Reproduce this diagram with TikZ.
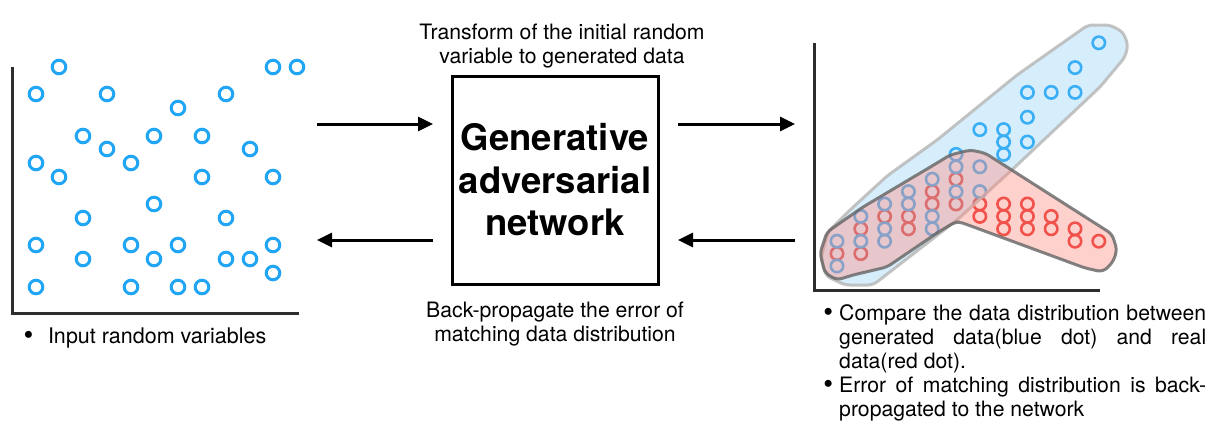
\documentclass[tikz,border=0pt]{standalone}
\usepackage{fontspec}
\setmainfont{TeX Gyre Heros}
\usetikzlibrary{arrows.meta}
\definecolor{ptblue}{RGB}{33,165,245}
\definecolor{ptred}{RGB}{232,45,40}
\definecolor{blobblue}{RGB}{120,200,245}
\definecolor{blobred}{RGB}{255,140,130}
\definecolor{axisgray}{RGB}{45,45,45}
\definecolor{blueedge}{RGB}{185,185,185}
\definecolor{rededge}{RGB}{100,100,100}
\newcommand\bigbul{\raisebox{-1.5pt}{\fontsize{28}{24}\selectfont\textbullet}}
\tikzset{
  dotL/.style={draw=ptblue, line width=3pt},
  dotB/.style={draw=ptblue, line width=2.6pt},
  dotR/.style={draw=ptred, line width=2.6pt},
  axis/.style={draw=axisgray, line width=3pt},
  arr/.style={draw=black, line width=3pt, -{Triangle[length=15pt,width=14pt]}},
  lbl/.style={font=\fontsize{21.2}{24}\selectfont, align=center, inner sep=0pt},
  ganbox/.style={draw=black, line width=3pt, minimum width=206pt, minimum height=208pt,
    inner sep=0pt, align=center, font=\fontsize{36.5}{42.5}\selectfont\bfseries},
  blobB/.style={fill=blobblue, fill opacity=0.3, draw=blueedge, draw opacity=0.85, line width=3pt, rounded corners=5pt},
  blobR/.style={fill=blobred, fill opacity=0.4, draw=rededge, draw opacity=0.8, line width=3pt, rounded corners=5pt}
}
\begin{document}
\begin{tikzpicture}[x=1pt,y=-1pt]
\useasboundingbox (0,0) rectangle (1228,440);
% ---- left scatter
\foreach \px/\py in {59/67,273/67,297/67,36/94,107/94,226/94,178/108,83/136,154/136,202/136,
  107/149,250/149,36/163,131/163,59/177,202/177,273/177,154/204,83/218,226/218,
  36/245,131/245,178/245,273/245,83/259,154/259,226/259,250/259,273/273,
  36/287,131/287,178/287,202/287}
  \draw[dotL] (\px,\py) circle[radius=6.8pt];
\coordinate (lO) at (12,313);
\coordinate (lT) at (12,67);
\coordinate (lR) at (299,313);
\draw[axis] (lT) -- (lO) -- (lR);
\node[anchor=base west, font=\fontsize{21.5}{24}\selectfont, inner sep=0pt] (ltext) at (23.5,343)
  {\bigbul\hspace{14.5pt}Input random variables};
% ---- GAN box
\node[ganbox] (gan) at (555,180) {Generative\\adversarial\\network};
\node[lbl] (toplbl) at (562,46) {Transform of the initial random\\variable to generated data};
\node[lbl] (botlbl) at (555,324) {Back-propagate the error of\\matching data distribution};
% ---- arrows
\coordinate (a1s) at (317,124); \coordinate (a1e) at (433,124);
\coordinate (a2s) at (433,240); \coordinate (a2e) at (317,240);
\coordinate (a3s) at (678,124); \coordinate (a3e) at (795,124);
\coordinate (a4s) at (795,240); \coordinate (a4e) at (678,240);
\draw[arr] (a1s) -- (a1e);
\draw[arr] (a2s) -- (a2e);
\draw[arr] (a3s) -- (a3e);
\draw[arr] (a4s) -- (a4e);
% ---- right scatter
\foreach \c/\k in {0/1,1/3,1/1,2/4,3/4,3/3,4/6,4/5,5/7,5/5,6/5,6/4,7/5,7/4,7/3,8/5,8/4,8/3,9/4,9/3,10/3,10/2,11/2}
  \draw[dotR] ({837+23.8*\c},{266-12.4*\k}) circle[radius=6.2pt];
\foreach \c/\k in {11/18,10/16,8/14,9/14,10/14,8/12,6/11,7/11,7/10,8/10,7/9,
  5/9,5/8,6/8,4/7,5/6,6/6,3/6,3/5,2/5,1/4,4/4,2/3,4/3,1/2,2/2,0/2,0/0}
  \draw[dotB] ({837+23.8*\c},{266-12.4*\k}) circle[radius=6.2pt];
\draw[blobB] (1088,25) -- (1110,25) -- (1123,32) -- (1128,45) -- (1125,57) -- (1100,87)
  -- (1015,167) -- (957,220) -- (873,285) -- (845,285) -- (826,276) -- (821,258) -- (828,232)
  -- (850,210) -- (887,176) -- (937,140) -- (1017,75) -- cycle;
\draw[blobR] (827,232) -- (863,207) -- (937,163) -- (950,155) -- (970,150) -- (985,153)
  -- (1112,234) -- (1117,250) -- (1113,262) -- (1103,272) -- (1085,268) -- (960,222)
  -- (955,222) -- (937,233) -- (887,267) -- (853,275) -- (837,280) -- (825,273) -- (820,253) -- cycle;
\coordinate (rO) at (814,290);
\coordinate (rT) at (814,43);
\coordinate (rR) at (1100,290);
\draw[axis] (rT) -- (rO) -- (rR);
\node[anchor=north west, text width=367pt, inner sep=0pt, align=justify,
  font=\fontsize{21.2}{24}\selectfont] (rtext) at (839,304)
  {\tolerance=10000\hyphenpenalty=10000
   \noindent\llap{\bigbul\hspace{6pt}}Compare the data distribution between\linebreak generated data(blue dot) and real\linebreak data(red dot).\par
   \noindent\llap{\bigbul\hspace{6pt}}Error of matching distribution is back-\linebreak propagated to the network\par};
\end{tikzpicture}
\end{document}
